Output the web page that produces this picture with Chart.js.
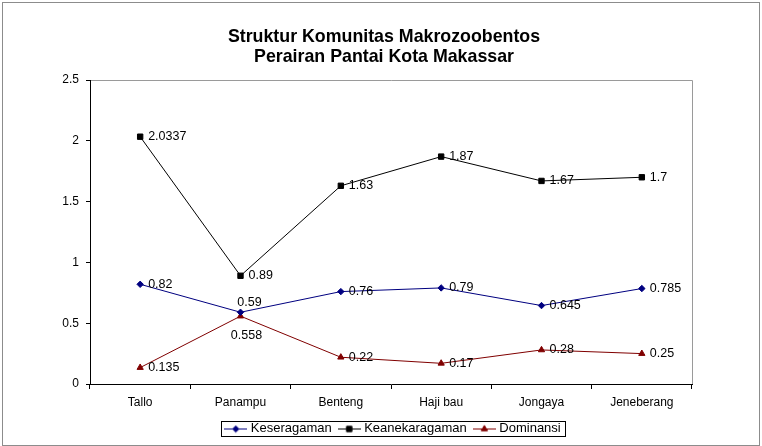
<!DOCTYPE html>
<html>
<head>
<meta charset="utf-8">
<script src="https://cdn.jsdelivr.net/npm/chart.js@4.4.0/dist/chart.umd.min.js"></script>
<style>
  html, body { margin: 0; padding: 0; background: #fff; }
  #wrap { width: 762px; height: 446px; }
</style>
</head>
<body>
<div id="wrap"><canvas id="grafik"></canvas></div>
<script>
// =========================
// DATA
// =========================
const lokasi = ["Tallo", "Panampu", "Benteng", "Haji bau", "Jongaya", "Jeneberang"];
const keseragaman = [0.82, 0.59, 0.76, 0.79, 0.645, 0.785];
const keanekaragaman = [2.0337, 0.89, 1.63, 1.87, 1.67, 1.7];
const dominansi = [0.135, 0.558, 0.22, 0.17, 0.28, 0.25];
const yTicks = [0, 0.5, 1, 1.5, 2, 2.5];
const judul = ["Struktur Komunitas Makrozoobentos", "Perairan Pantai Kota Makassar"];

const FONT = "'Liberation Sans', Arial, sans-serif";

// =========================
// IKON LEGENDA (garis + penanda)
// =========================
function buatIkon(warna, gaya, radius) {
  const c = document.createElement("canvas");
  c.width = 23;
  c.height = 10;
  const g = c.getContext("2d");
  g.strokeStyle = warna;
  g.lineWidth = 1;
  g.beginPath();
  g.moveTo(0, 5.5);
  g.lineTo(23, 5.5);
  g.stroke();
  g.fillStyle = warna;
  Chart.helpers.drawPoint(g, { pointStyle: gaya, radius: radius, rotation: 0, borderWidth: 1 }, 11.5, 5.5);
  return c;
}

const seri = [
  { label: "Keseragaman", data: keseragaman, warna: "#000080", gaya: "rectRot", r: 3.2 },
  { label: "Keanekaragaman", data: keanekaragaman, warna: "#000000", gaya: "rect", r: 3.8 },
  { label: "Dominansi", data: dominansi, warna: "#800000", gaya: "triangle", r: 3.6 }
];
const ikonLegenda = seri.map((s) => buatIkon(s.warna, s.gaya, s.r));

// =========================
// PLUGIN: bingkai + label titik
// =========================
const bingkai = {
  id: "bingkai",
  afterLayout(chart) {
    // legenda & judul sedikit ke kanan seperti aslinya
    chart.legend.left += 13;
    chart.legend.right += 13;
    if (chart.titleBlock) {
      chart.titleBlock.left += 3;
      chart.titleBlock.right += 3;
    }
  },
  beforeDraw(chart) {
    const ctx = chart.ctx;
    const a = chart.chartArea;
    ctx.save();
    ctx.fillStyle = "#fff";
    ctx.fillRect(0, 0, chart.width, chart.height);
    ctx.strokeStyle = "#8c8c8c";
    ctx.lineWidth = 1;
    ctx.strokeRect(2.5, 2.5, chart.width - 5, chart.height - 3);
    // garis atas & kanan area plot
    const t = Math.round(a.top) + 0.5;
    const r = Math.round(a.right) + 0.5;
    ctx.strokeStyle = "#9a9a9a";
    ctx.beginPath();
    ctx.moveTo(a.left, t);
    ctx.lineTo(r, t);
    ctx.lineTo(r, a.bottom);
    ctx.stroke();
    ctx.restore();
  },
  afterDraw(chart) {
    const boxes = chart.legend.legendHitBoxes;
    if (!boxes || !boxes.length) return;
    const kiri = Math.min(...boxes.map((b) => b.left)) - 6;
    const kanan = Math.max(...boxes.map((b) => b.left + b.width)) + 5;
    const atas = Math.min(...boxes.map((b) => b.top)) - 1;
    const bawah = Math.max(...boxes.map((b) => b.top + b.height)) + 1;
    const ctx = chart.ctx;
    ctx.save();
    ctx.strokeStyle = "#000";
    ctx.lineWidth = 1;
    ctx.strokeRect(Math.round(kiri) + 0.5, Math.round(atas) + 0.5, Math.round(kanan - kiri), Math.round(bawah - atas));
    ctx.restore();
  }
};

// geser label: [dx, dy, align] per seri & indeks
const geserLabel = {
  0: { 1: [9, -10, "center"] },
  2: { 1: [6, 19, "center"] }
};

const labelTitik = {
  id: "labelTitik",
  afterDatasetsDraw(chart) {
    const ctx = chart.ctx;
    ctx.save();
    ctx.font = "12.5px " + FONT;
    ctx.fillStyle = "#000";
    ctx.textBaseline = "middle";
    chart.data.datasets.forEach((ds, i) => {
      chart.getDatasetMeta(i).data.forEach((pt, j) => {
        const g = (geserLabel[i] && geserLabel[i][j]) || [8, 0, "left"];
        ctx.textAlign = g[2];
        ctx.fillText(String(ds.data[j]), pt.x + g[0], pt.y + g[1]);
      });
    });
    ctx.restore();
  }
};

// =========================
// GRAFIK
// =========================
const ctx = document.getElementById("grafik").getContext("2d");

new Chart(ctx, {
  type: "line",
  data: {
    labels: lokasi,
    datasets: seri.map((s) => ({
      label: s.label,
      data: s.data,
      borderColor: s.warna,
      backgroundColor: s.warna,
      borderWidth: 1,
      pointStyle: s.gaya,
      pointRadius: s.r,
      pointBorderWidth: 1,
      pointBorderColor: s.warna,
      pointBackgroundColor: s.warna,
      tension: 0,
      fill: false
    }))
  },
  options: {
    responsive: true,
    maintainAspectRatio: false,
    animation: false,
    events: [],
    layout: { padding: { top: 0, left: 0, right: 0, bottom: 1 } },
    plugins: {
      tooltip: { enabled: false },
      title: {
        display: true,
        text: judul,
        color: "#000",
        font: { family: FONT, size: 17.8, weight: "bold", lineHeight: "20px" },
        padding: { top: 27, bottom: 13 }
      },
      legend: {
        position: "bottom",
        labels: {
          color: "#000",
          font: { family: FONT, size: 13 },
          usePointStyle: true,
          pointStyleWidth: 17,
          padding: 9,
          generateLabels(chart) {
            const items = Chart.defaults.plugins.legend.labels.generateLabels(chart);
            items.forEach((it, i) => { it.pointStyle = ikonLegenda[i]; });
            return items;
          }
        }
      }
    },
    scales: {
      x: {
        type: "category",
        offset: true,
        grid: { offset: true, drawOnChartArea: false, tickLength: 5, color: "#000" },
        border: { color: "#000" },
        ticks: { color: "#000", padding: 6, font: { family: FONT, size: 12 }, maxRotation: 0 },
        afterFit(s) { s.height = 29; }
      },
      y: {
        min: yTicks[0],
        max: yTicks[yTicks.length - 1],
        afterBuildTicks(s) { s.ticks = yTicks.map((v) => ({ value: v })); },
        grid: { drawOnChartArea: false, tickLength: 4, color: "#000" },
        border: { color: "#000" },
        ticks: { color: "#000", padding: 7, font: { family: FONT, size: 12 }, callback: (v) => String(v) },
        afterFit(s) { s.width = 90; }
      },
      kanan: {
        type: "linear",
        position: "right",
        display: true,
        grid: { display: false, drawTicks: false },
        border: { display: false },
        ticks: { display: false },
        afterFit(s) { s.width = 70; }
      }
    }
  },
  plugins: [bingkai, labelTitik]
});
</script>
</body>
</html>
